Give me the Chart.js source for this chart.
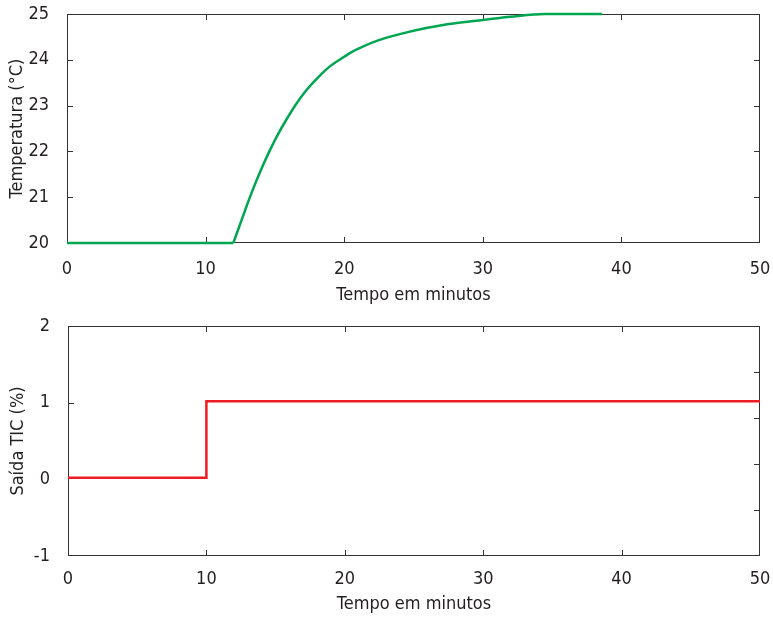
<!DOCTYPE html>
<html>
<head>
<meta charset="utf-8">
<script src="https://cdn.jsdelivr.net/npm/chart.js@4"></script>
<style>
  html, body { margin: 0; padding: 0; background: #fff; }
  #wrap { position: relative; width: 773px; height: 619px; }
  .box { position: absolute; left: 0; width: 773px; }
  #boxTop { top: 0; height: 310px; }
  #boxBottom { top: 310px; height: 309px; }
</style>
</head>
<body>
<div id="wrap">
  <div class="box" id="boxTop"><canvas id="temperatura"></canvas></div>
  <div class="box" id="boxBottom"><canvas id="saida"></canvas></div>
</div>
<script>
// ---- dados ----
const tempoTemp = [0, 12, 12.5, 13, 13.4, 14, 14.6, 15.2, 15.8, 16.5, 17.25, 18, 18.9, 19.8, 20.6, 21.5, 22.5, 24, 26, 28, 30, 32, 34.5, 38.6];
const temperatura = [20, 20, 20.42, 20.84, 21.16, 21.6, 22.0, 22.36, 22.68, 23.02, 23.33, 23.58, 23.84, 24.03, 24.18, 24.31, 24.43, 24.56, 24.70, 24.80, 24.87, 24.94, 25.0, 25.0];
const inicioSubida = 1; // índice onde a temperatura começa a subir

const tempoSaida = [0, 10, 50];
const saidaTIC = [0.02, 1.02, 1.02];

const xTicks = [10, 20, 30, 40];
const tempTicks = [21, 22, 23, 24];
const saidaTicks = [1];
const saidaRightTicks = [1, 2, 3, 4];

const fonte = "'Liberation Sans Narrow', 'DejaVu Sans Condensed', 'Roboto', sans-serif";
const corTexto = "#231f20";
const corMoldura = "#333333";
const verde = "#00a651";

/* moldura e marcas internas */
const frameTicks = {
  id: "frameTicks",
  beforeDatasetsDraw(chart, args, opts) {
    const { ctx, chartArea: a, scales } = chart;
    const len = 6;
    ctx.save();
    ctx.strokeStyle = corMoldura;
    ctx.lineWidth = 1;
    ctx.strokeRect(a.left + 0.5, a.top + 0.5, a.right - a.left - 1, a.bottom - a.top - 1);
    ctx.beginPath();
    (opts.x || []).forEach(v => {
      const px = Math.round(scales.x.getPixelForValue(v)) + 0.5;
      ctx.moveTo(px, a.top); ctx.lineTo(px, a.top + len);
      ctx.moveTo(px, a.bottom); ctx.lineTo(px, a.bottom - len);
    });
    (opts.left || []).forEach(v => {
      const py = Math.round(scales.y.getPixelForValue(v)) + 0.5;
      ctx.moveTo(a.left, py); ctx.lineTo(a.left + len, py);
    });
    const rs = scales[opts.rightScale || "y"];
    (opts.right || []).forEach(v => {
      const py = Math.round(rs.getPixelForValue(v)) + 0.5;
      ctx.moveTo(a.right, py); ctx.lineTo(a.right - len, py);
    });
    ctx.stroke();
    ctx.restore();
  }
};

function eixoX(altura, pad) {
  return {
    type: "linear", min: 0, max: 50,
    grid: { display: false },
    border: { display: false },
    ticks: { stepSize: 10, padding: pad, color: corTexto, font: { family: fonte, size: 18 } },
    title: { display: true, text: "Tempo em minutos", color: corTexto, font: { family: fonte, size: 18 }, padding: { top: 4, bottom: 4 } },
    afterFit: s => { s.height = altura; s.paddingLeft = 0; s.paddingRight = 0; }
  };
}

function eixoY(min, max, texto) {
  return {
    min: min, max: max,
    grid: { display: false },
    border: { display: false },
    ticks: { stepSize: 1, padding: 10, color: corTexto, font: { family: fonte, size: 18 } },
    title: { display: true, text: texto, color: corTexto, font: { family: fonte, size: 18 }, padding: { top: 7, bottom: 0 } },
    afterFit: s => { s.width = 67; s.paddingTop = 0; s.paddingBottom = 0; }
  };
}

const pontosTemp = tempoTemp.map((t, i) => ({ x: t, y: temperatura[i] }));

new Chart(document.getElementById("temperatura"), {
  type: "line",
  data: {
    datasets: [
      {
        data: pontosTemp.slice(0, inicioSubida + 1),
        borderColor: verde, borderWidth: 2.5, pointRadius: 0, clip: 4
      },
      {
        data: pontosTemp.slice(inicioSubida),
        borderColor: verde, borderWidth: 2.5, pointRadius: 0,
        cubicInterpolationMode: "monotone", clip: 4
      }
    ]
  },
  options: {
    responsive: true,
    maintainAspectRatio: false,
    animation: false,
    layout: { padding: { left: 0, right: 13, top: 14, bottom: 0 } },
    plugins: {
      legend: { display: false },
      tooltip: { enabled: false },
      frameTicks: { x: xTicks, left: tempTicks, right: tempTicks }
    },
    scales: {
      x: eixoX(67, 8),
      y: eixoY(20, 25, "Temperatura (°C)")
    }
  },
  plugins: [frameTicks]
});

new Chart(document.getElementById("saida"), {
  type: "line",
  data: {
    datasets: [{
      data: tempoSaida.map((t, i) => ({ x: t, y: saidaTIC[i] })),
      borderColor: "#ed1c24",
      borderWidth: 2.5,
      pointRadius: 0,
      stepped: "before",
      clip: 4
    }]
  },
  options: {
    responsive: true,
    maintainAspectRatio: false,
    animation: false,
    layout: { padding: { left: 1, right: 13, top: 16, bottom: 0 } },
    plugins: {
      legend: { display: false },
      tooltip: { enabled: false },
      frameTicks: { x: xTicks, left: saidaTicks, right: saidaRightTicks, rightScale: "y2" }
    },
    scales: {
      x: eixoX(63, 5),
      y: eixoY(-1, 2, "Saída TIC (%)"),
      y2: { position: "right", min: 0, max: 5, display: false }
    }
  },
  plugins: [frameTicks]
});
</script>
</body>
</html>
